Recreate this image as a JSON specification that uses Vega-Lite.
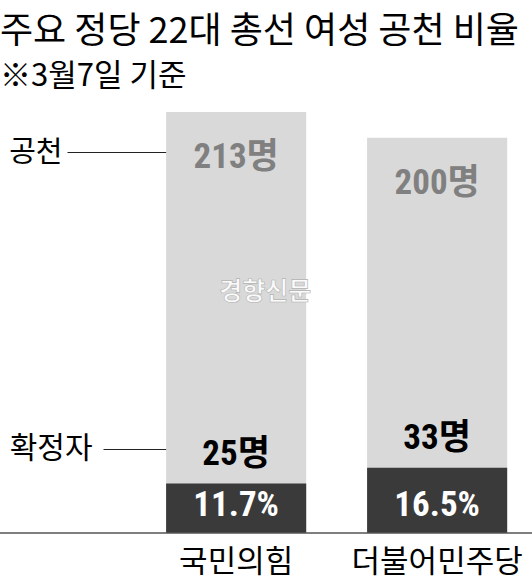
{
  "$schema": "https://vega.github.io/schema/vega-lite/v6.json",
  "autosize": {"type": "none"},
  "width": 532,
  "height": 421,
  "padding": {"left": 0, "right": 0, "top": 112, "bottom": 52},
  "background": "white",
  "title": {
    "text": "주요 정당 22대 총선 여성 공천 비율",
    "subtitle": "※3월7일 기준",
    "anchor": "start",
    "frame": "group",
    "font": "Noto Sans CJK KR",
    "fontSize": 36,
    "fontWeight": "normal",
    "color": "#000000",
    "subtitleFont": "Noto Sans CJK KR",
    "subtitleFontSize": 31,
    "subtitleColor": "#000000",
    "subtitlePadding": 11,
    "offset": 19
  },
  "data": {
    "values": [
      {"party": "국민의힘", "total": 213, "women": 25, "share": 0.117, "total_label": "213명", "women_label": "25명"},
      {"party": "더불어민주당", "total": 200, "women": 33, "share": 0.165, "total_label": "200명", "women_label": "33명"}
    ]
  },
  "layer": [
    {
      "mark": {"type": "bar", "color": "#d9d9d9"},
      "encoding": {
        "x": {
          "field": "party",
          "type": "nominal",
          "sort": null,
          "scale": {"paddingInner": 0.303, "paddingOuter": 0.475, "align": 0.87},
          "axis": null
        },
        "y": {
          "field": "total",
          "type": "quantitative",
          "scale": {"domain": [0, 213], "nice": false},
          "axis": {
            "orient": "left",
            "offset": -188,
            "values": [213],
            "tickOffset": 40,
            "labelExpr": "'공천'",
            "tickSize": 121,
            "tickColor": "#222222",
            "tickWidth": 1,
            "labelPadding": 5,
            "labelFontSize": 29,
            "labelFont": "Noto Sans CJK KR",
            "labelColor": "#000000",
            "domain": false,
            "grid": false,
            "title": null
          }
        }
      }
    },
    {
      "mark": {
        "type": "text",
        "dy": 45,
        "fontSize": 35,
        "fontWeight": "bold",
        "font": "Roboto Condensed, Roboto, Noto Sans CJK KR, sans-serif",
        "color": "#808080",
        "baseline": "middle"
      },
      "encoding": {
        "x": {"field": "party", "type": "nominal", "sort": null, "axis": null},
        "y": {"field": "total", "type": "quantitative", "axis": null},
        "text": {"field": "total_label"}
      }
    },
    {
      "mark": {"type": "bar", "color": "#3a3a3a"},
      "encoding": {
        "x": {"field": "party", "type": "nominal", "sort": null, "axis": null},
        "y": {
          "field": "women",
          "type": "quantitative",
          "axis": {
            "orient": "left",
            "offset": -167,
            "values": [25],
            "tickOffset": -35,
            "labelExpr": "'확정자'",
            "tickSize": 64,
            "tickColor": "#222222",
            "tickWidth": 1,
            "labelPadding": 11,
            "labelFontSize": 30,
            "labelFont": "Noto Sans CJK KR",
            "labelColor": "#000000",
            "domain": false,
            "grid": false,
            "title": null
          }
        }
      }
    },
    {
      "mark": {
        "type": "text",
        "dy": -30,
        "fontSize": 35,
        "fontWeight": "bold",
        "font": "Roboto Condensed, Roboto, Noto Sans CJK KR, sans-serif",
        "color": "#000000",
        "baseline": "middle"
      },
      "encoding": {
        "x": {"field": "party", "type": "nominal", "sort": null, "axis": null},
        "y": {"field": "women", "type": "quantitative", "axis": null},
        "text": {"field": "women_label"}
      }
    },
    {
      "mark": {
        "type": "text",
        "dy": -28,
        "fontSize": 35,
        "fontWeight": "bold",
        "font": "Roboto Condensed, Roboto, Noto Sans CJK KR, sans-serif",
        "color": "#ffffff",
        "baseline": "middle"
      },
      "encoding": {
        "x": {"field": "party", "type": "nominal", "sort": null, "axis": null},
        "y": {"datum": 0, "type": "quantitative", "axis": null},
        "text": {"field": "share", "format": ".1%"}
      }
    },
    {
      "mark": {
        "type": "text",
        "dy": 30,
        "fontSize": 31,
        "fontWeight": "normal",
        "font": "Noto Sans CJK KR",
        "color": "#000000",
        "baseline": "middle"
      },
      "encoding": {
        "x": {"field": "party", "type": "nominal", "sort": null, "axis": null},
        "y": {"datum": 0, "type": "quantitative", "axis": null},
        "text": {"field": "party"}
      }
    },
    {
      "data": {"values": [{"base": 0}]},
      "mark": {"type": "rule", "color": "#555555", "strokeWidth": 1.5},
      "encoding": {
        "y": {"field": "base", "type": "quantitative", "axis": null}
      }
    },
    {
      "data": {"values": [{"mark_text": "경향신문"}]},
      "mark": {
        "type": "text",
        "dx": -41,
        "fontSize": 25,
        "fontWeight": "bold",
        "font": "Noto Sans CJK KR",
        "color": "#fafafa",
        "stroke": "#b0b0b0",
        "strokeWidth": 0.6,
        "baseline": "middle"
      },
      "encoding": {
        "x": {"datum": "국민의힘", "bandPosition": 1, "axis": null},
        "y": {"datum": 122, "type": "quantitative", "axis": null},
        "text": {"field": "mark_text"}
      }
    }
  ],
  "resolve": {"axis": {"y": "independent"}},
  "config": {"view": {"stroke": null}}
}
